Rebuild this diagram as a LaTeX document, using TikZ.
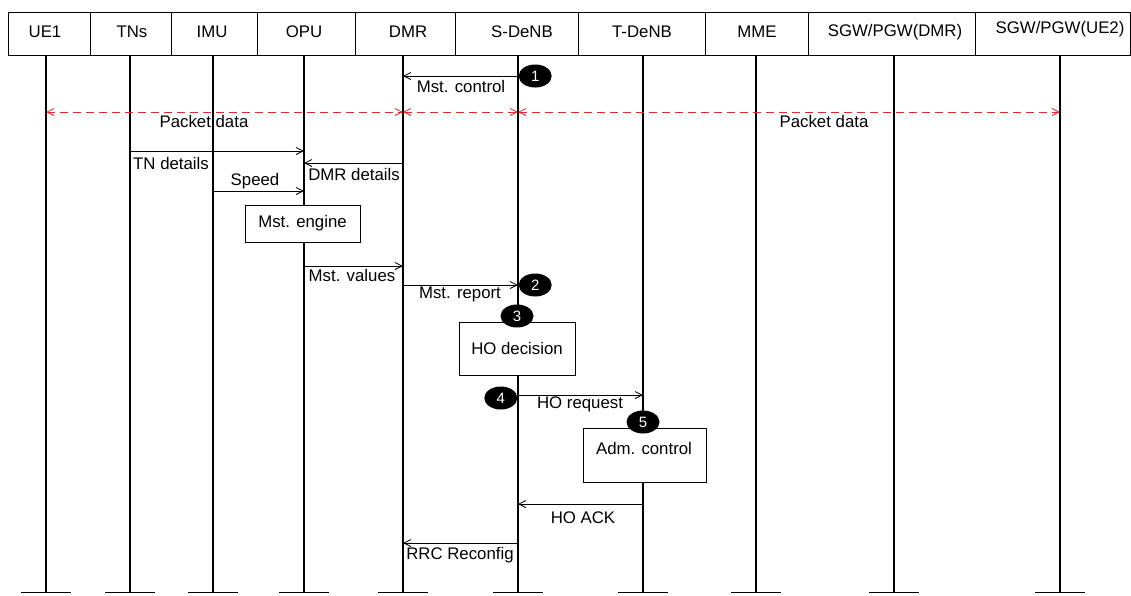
\documentclass[tikz,border=0pt]{standalone}
\usepackage{fontspec}
\setmainfont{Liberation Sans}
\usetikzlibrary{arrows.meta,shapes.geometric,calc}
\definecolor{pktred}{RGB}{220,45,45}
\begin{document}
\begin{tikzpicture}[x=1pt,y=-1pt,
  font=\fontsize{16.8}{19}\selectfont,
  life/.style={line width=1.6pt},
  bar/.style={line width=1pt},
  tipb/.tip={Straight Barb[length=7pt,width=7pt,line width=0.8pt]},
  msg/.style={line width=0.8pt,-tipb},
  pkt/.style={line width=1pt,draw=pktred,dash pattern=on 8pt off 5pt,tipb-tipb},
  lbl/.style={inner sep=0pt},
  hdr/.style={inner sep=0pt},
  proc/.style={draw,line width=0.9pt,fill=white,inner sep=0pt},
  badge/.style={ellipse,fill=black,text=white,minimum width=33pt,minimum height=23pt,inner sep=0pt,font=\fontsize{15}{17}\selectfont},
]
\useasboundingbox (0,0) rectangle (1131,595);
\fill[white] (0,0) rectangle (1131,595);

% header
\draw[line width=0.8pt] (8,12) rectangle (1130.5,55);
\foreach \x in {90,171,257,355,455,578,705,808,975}
  \draw[line width=0.8pt] (\x,12) -- (\x,55);
\node[hdr] (hue)  at (45,32)   {UE1};
\node[hdr] (htn)  at (132,32)  {TNs};
\node[hdr] (himu) at (212,32)  {IMU};
\node[hdr] (hopu) at (304,32)  {OPU};
\node[hdr] (hdmr) at (408,32)  {DMR};
\node[hdr] (hsd)  at (522,32)  {S-DeNB};
\node[hdr] (htd)  at (642,32)  {T-DeNB};
\node[hdr] (hmme) at (757,32)  {MME};
\node[hdr] (hsgd) at (895,32)  {SGW/PGW(DMR)};
\node[hdr] (hsgu) at (1060,29) {SGW/PGW(UE2)};

% lifelines
\foreach \n/\x in {ue/46,tn/130,imu/213,opu/304,dmr/403,sd/518,td/643,mme/756,sgd/894,sgu/1060}{
  \coordinate (\n) at (\x,55);
  \coordinate (\n b) at (\x,592);
  \draw[life] (\n) -- (\n b);
  \draw[bar] ($(\n b)+(-25,0)$) -- ($(\n b)+(25,0)$);
}

% message levels
\foreach \n/\y in {l1/76,l2/112,l3/151,l4/163,l5/191,l6/266,l7/285,l8/395,l9/504,l10/543}
  \coordinate (\n) at (0,\y);

% 1 Mst. control
\draw[msg] (sd |- l1) -- (dmr |- l1);
\node[lbl] (t1) at (461,86) {Mst. control};
\node[badge,anchor=west] (b1) at ($(sd |- l1)+(0.5,0)$) {1};

% packet data
\draw[pkt] (ue |- l2) -- (dmr |- l2);
\draw[pkt] (dmr |- l2) -- (sd |- l2);
\draw[pkt] (sd |- l2) -- (sgu |- l2);
\node[lbl] (t2a) at (204,121) {Packet data};
\node[lbl] (t2b) at (824,121) {Packet data};

% TN details
\draw[msg] (tn |- l3) -- (opu |- l3);
\node[lbl,anchor=west] (t3) at (133,163) {TN details};
% DMR details
\draw[msg] (dmr |- l4) -- (opu |- l4);
\node[lbl] (t4) at (354,174) {DMR details};
% Speed
\draw[msg] (imu |- l5) -- (opu |- l5);
\node[lbl] (t5) at (255,181) {Speed};

% Mst. engine
\node[proc,minimum width=115pt,minimum height=37pt] (eng) at (302.5,223.5) {Mst. engine};

% Mst. values
\draw[msg] (opu |- l6) -- (dmr |- l6);
\node[lbl] (t6) at (352,275) {Mst. values};
% Mst. report
\draw[msg] (dmr |- l7) -- (sd |- l7);
\node[lbl] (t7) at (460,294) {Mst. report};
\node[badge,anchor=west] (b2) at ($(sd |- l7)+(0.5,0)$) {2};

% HO decision
\node[proc,minimum width=116pt,minimum height=53pt] (hod) at (517,348.5) {HO decision};
\node[badge] (b3) at (517,316) {3};

% HO request
\node[badge,anchor=east] (b4) at ($(sd |- l8)+(-0.5,3)$) {4};
\draw[msg] (sd |- l8) -- (td |- l8);
\node[lbl] (t8) at (580,404) {HO request};

% Adm. control
\node[proc,minimum width=123pt,minimum height=54pt] (adm) at (644.5,455) {};
\node[lbl] (tadm) at (644,448) {Adm. control};
\node[badge] (b5) at (643,422) {5};

% HO ACK
\draw[msg] (td |- l9) -- (sd |- l9);
\node[lbl] (t9) at (583,518) {HO ACK};
% RRC Reconfig
\draw[msg] (sd |- l10) -- (dmr |- l10);
\node[lbl] (t10) at (460,555) {RRC Reconfig};
\end{tikzpicture}
\end{document}
